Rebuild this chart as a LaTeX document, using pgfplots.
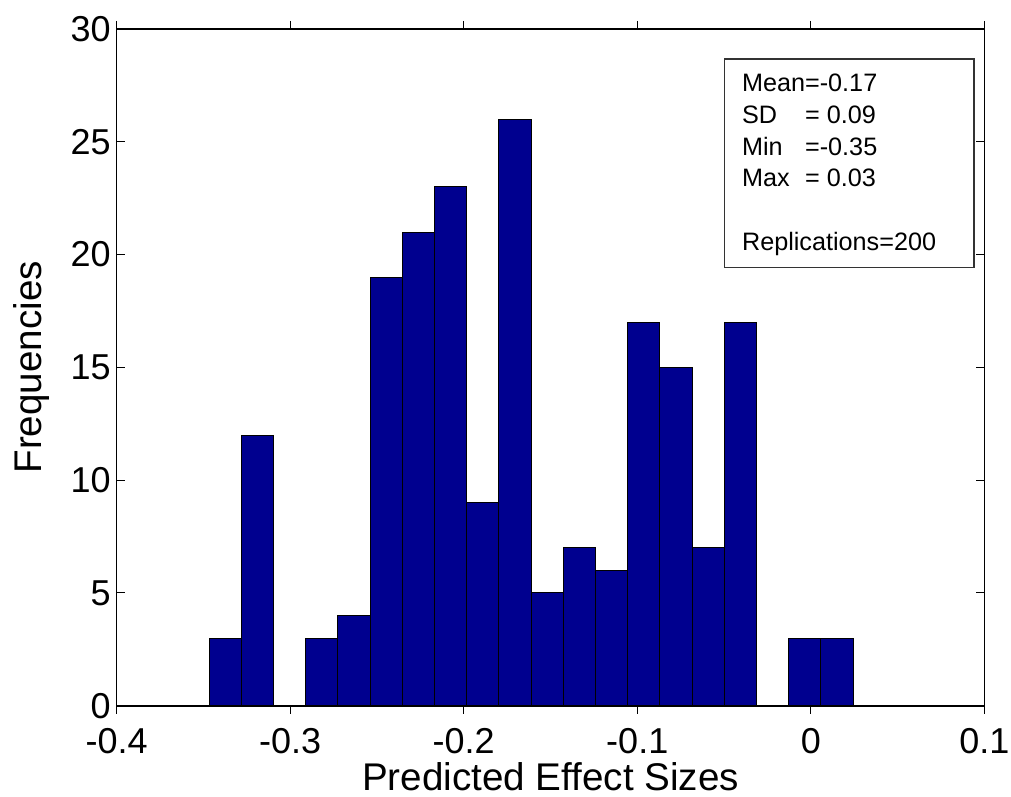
\documentclass[border=0pt]{standalone}
\usepackage{fontspec}
\setmainfont{Liberation Sans}
\usepackage{pgfplots}
\pgfplotsset{compat=1.18}
\usetikzlibrary{calc}
\definecolor{barblue}{RGB}{0,0,143}

% bin centres and counts
\pgfplotstableread{
x        n
-0.33752  3
-0.31896 12
-0.30040  0
-0.28184  3
-0.26328  4
-0.24472 19
-0.22616 21
-0.20760 23
-0.18904  9
-0.17048 26
-0.15192  5
-0.13336  7
-0.11480  6
-0.09624 17
-0.07768 15
-0.05912  7
-0.04056 17
-0.02200  0
-0.00344  3
 0.01512  3
}\histdata

\begin{document}
\begin{tikzpicture}
\begin{axis}[
  name=ax,
  scale only axis,
  width=433.8pt, height=338.35pt,
  xmin=-0.4, xmax=0.1, ymin=0, ymax=30,
  enlargelimits=false,
  axis line style={line width=0.8pt, black},
  xtick={-0.4,-0.3,-0.2,-0.1,0,0.1},
  xticklabels={-0.4,-0.3,-0.2,-0.1,0,0.1},
  ytick={0,5,10,15,20,25,30},
  yticklabels={0,5,10,15,20,25,30},
  tick align=inside,
  major tick length=4pt,
  every tick/.style={black, line width=0.5pt},
  ticklabel style={font=\fontsize{18}{21}\selectfont},
  xticklabel style={yshift=-3.6pt},
  yticklabel style={xshift=0.5pt},
  label style={font=\fontsize{19.3}{23}\selectfont},
  xlabel={Predicted Effect Sizes},
  ylabel={Frequencies},
  xlabel style={at={(axis description cs:0.5,-0.1246)}, anchor=base},
  ylabel style={at={(axis description cs:-0.0864,0.5)}, anchor=base},
  ybar, bar width=0.01856,
]
\addplot[draw=black, line width=0.5pt, fill=barblue] table[x=x, y=n] {\histdata};
\draw[line width=0.6pt, black!80] (rel axis cs:0.7003,0.9557) rectangle (rel axis cs:0.988,0.647);
\node[anchor=base west, inner sep=0pt, font=\fontsize{12.6}{15.85}\selectfont]
  at ($(rel axis cs:0.7003,0.9557)+(8.7pt,-16.35pt)$)
  {\begin{tabular}[t]{@{}l@{}l@{}}
   Mean & =-0.17\\
   SD & = 0.09\\
   Min & =-0.35\\
   Max & = 0.03\\
   & \\
   \multicolumn{2}{@{}l@{}}{Replications=200}
   \end{tabular}};
\end{axis}
\pgfresetboundingbox
\path[use as bounding box] ($(ax.south west)+(-58.35pt,-45.65pt)$) rectangle ++(505.5pt,398.5pt);
\end{tikzpicture}
\end{document}
